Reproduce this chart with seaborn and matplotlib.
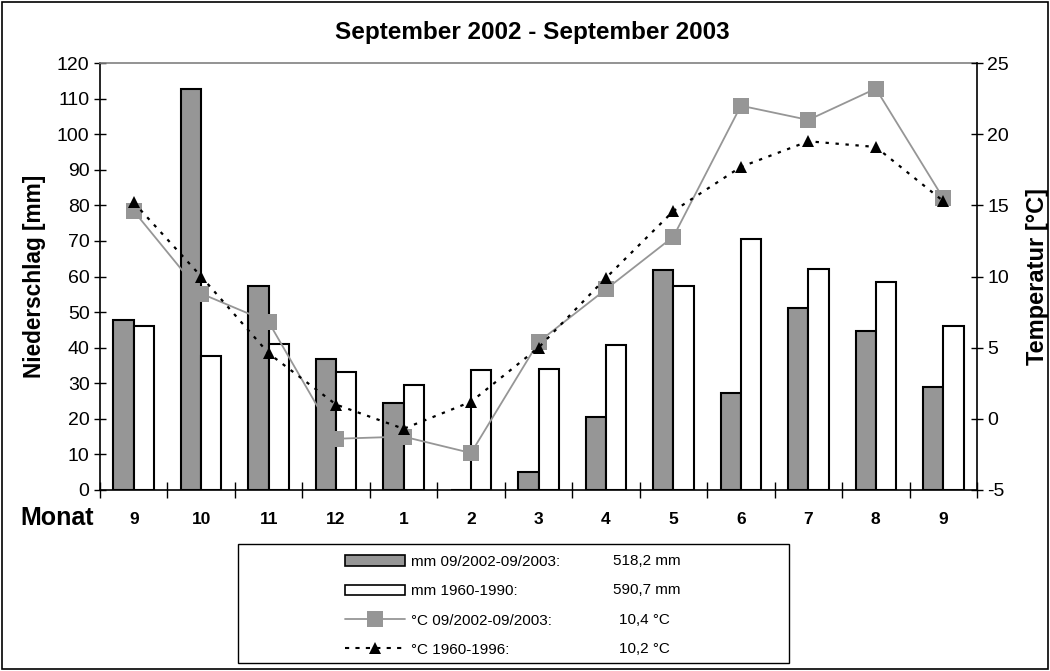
import matplotlib
matplotlib.use("Agg")
import matplotlib.pyplot as plt
import seaborn as sns
import pandas as pd
import numpy as np
from matplotlib.patches import Patch, Rectangle
from matplotlib.lines import Line2D

# ---------------- data ----------------
months = ["9", "10", "11", "12", "1", "2", "3", "4", "5", "6", "7", "8", "9"]
rain_2002_2003 = [47.8, 112.7, 57.4, 36.7, 24.5, 0.0, 5.1, 20.6, 61.8, 27.2, 51.2, 44.7, 28.9]
rain_1960_1990 = [46.0, 37.7, 41.1, 33.3, 29.4, 33.7, 34.1, 40.8, 57.4, 70.5, 62.2, 58.4, 46.0]
temp_2002_2003 = [14.6, 8.8, 6.8, -1.4, -1.25, -2.4, 5.4, 9.1, 12.8, 22.0, 21.0, 23.2, 15.5]
temp_1960_1996 = [15.2, 10.0, 4.6, 1.0, -0.7, 1.2, 5.0, 9.9, 14.6, 17.7, 19.5, 19.1, 15.3]
series_labels = ["mm 09/2002-09/2003:", "mm 1960-1990:", "°C 09/2002-09/2003:", "°C 1960-1996:"]
series_values = ["518,2 mm", "590,7 mm", "10,4 °C", "10,2 °C"]
title = "September 2002 - September 2003"

# ---------------- style ----------------
sns.set_style("white")
plt.rcParams["font.family"] = ["Liberation Sans", "DejaVu Sans"]
plt.rcParams["axes.unicode_minus"] = False
plt.rcParams["text.color"] = "black"
plt.rcParams["axes.labelcolor"] = "black"
plt.rcParams["xtick.color"] = "black"
plt.rcParams["ytick.color"] = "black"

GRAY = "#969696"

fig = plt.figure(figsize=(10.5, 6.71), dpi=100)
ax = fig.add_axes([100 / 1050, 1 - 490 / 671, 877 / 1050, 427 / 671])

pos = list(range(len(months)))
df = pd.DataFrame({
    "pos": pos * 2,
    "mm": rain_2002_2003 + rain_1960_1990,
    "series": [series_labels[0]] * len(pos) + [series_labels[1]] * len(pos),
})
sns.barplot(data=df, x="pos", y="mm", hue="series", ax=ax,
            palette=[GRAY, "white"], width=0.6, edgecolor="black",
            linewidth=1.5, saturation=1, legend=False, order=pos)

ax.set_xlim(-0.5, len(months) - 0.5)
ax.set_ylim(0, 120)
ax.set_yticks(range(0, 121, 10))
ax.tick_params(axis="y", direction="inout", length=9, width=1, labelsize=14, pad=3, left=True)
ax.set_xlabel("")
ax.set_ylabel("Niederschlag [mm]", fontsize=16.3, fontweight="bold", labelpad=8)

# x ticks: marks at category boundaries, labels at centres
ax.set_xticks(np.arange(-0.5, len(months), 1.0))
ax.set_xticklabels([])
ax.tick_params(axis="x", which="major", direction="inout", length=12, width=1, bottom=True)
ax.set_xticks(pos, minor=True)
ax.set_xticklabels(months, minor=True, fontsize=12.5, fontweight="bold")
ax.tick_params(axis="x", which="minor", length=0, pad=16)

for s in ["left", "bottom"]:
    ax.spines[s].set_color("black")
    ax.spines[s].set_linewidth(1.2)
ax.spines["top"].set_color("#808080")
ax.spines["top"].set_linewidth(1.2)
ax.spines["right"].set_visible(False)

# temperature axis
ax2 = ax.twinx()
sns.lineplot(x=pos, y=temp_2002_2003, ax=ax2, color=GRAY, linewidth=1.3,
             marker="s", markersize=11, markeredgewidth=0, markerfacecolor=GRAY,
             markeredgecolor=GRAY, zorder=3)
sns.lineplot(x=pos, y=temp_1960_1996, ax=ax2, color="black", linewidth=1.6,
             linestyle=(0, (1.5, 3)), marker="^", markersize=8, markeredgewidth=0,
             markerfacecolor="black", markeredgecolor="black", zorder=4)
ax2.set_ylim(-5, 25)
ax2.set_yticks(range(-5, 26, 5))
ax2.tick_params(axis="y", direction="inout", length=9, width=1, labelsize=14, pad=3, right=True)
ax2.set_ylabel("Temperatur [°C]", fontsize=17, fontweight="bold", labelpad=12)
ax2.spines["right"].set_color("black")
ax2.spines["right"].set_linewidth(1.2)
for s in ["left", "top", "bottom"]:
    ax2.spines[s].set_visible(False)
ax.set_xlim(-0.5, len(months) - 0.5)

# title and "Monat"
fig.text(532 / 1050, 1 - 33 / 671, title, ha="center", va="center",
         fontsize=17.5, fontweight="bold")
fig.text(57 / 1050, 1 - 518 / 671, "Monat", ha="center", va="center",
         fontsize=18, fontweight="bold")

# legend box
fig.patches.append(Rectangle((238 / 1050, 1 - 663 / 671), 551 / 1050, 119 / 671,
                             transform=fig.transFigure, facecolor="white",
                             edgecolor="black", linewidth=1.0, zorder=0))
handles = [
    Patch(facecolor=GRAY, edgecolor="black", linewidth=1.2),
    Patch(facecolor="white", edgecolor="black", linewidth=1.2),
    Line2D([], [], color=GRAY, linewidth=1.3, marker="s", markersize=11,
           markerfacecolor=GRAY, markeredgewidth=0),
    Line2D([], [], color="black", linewidth=1.5, linestyle=(0, (2, 3)), marker="^",
           markersize=8, markerfacecolor="black", markeredgewidth=0),
]
leg = fig.legend(handles, series_labels, loc="upper left",
                 bbox_to_anchor=(345 / 1050, 1 - 555 / 671), frameon=False,
                 fontsize=11, handlelength=3.9, handletextpad=0.4,
                 labelspacing=1.0, borderpad=0, borderaxespad=0)
row_y = [561, 590, 620, 649]
val_x = [613, 613, 619, 619]
for v, x, y in zip(series_values, val_x, row_y):
    fig.text(x / 1050, 1 - y / 671, v, ha="left", va="center", fontsize=11)

# outer border
fig.patches.append(Rectangle((0.002, 0.003), 0.996, 0.994, transform=fig.transFigure,
                             facecolor="none", edgecolor="black", linewidth=1.2))

fig.savefig("out.png", dpi=100)
